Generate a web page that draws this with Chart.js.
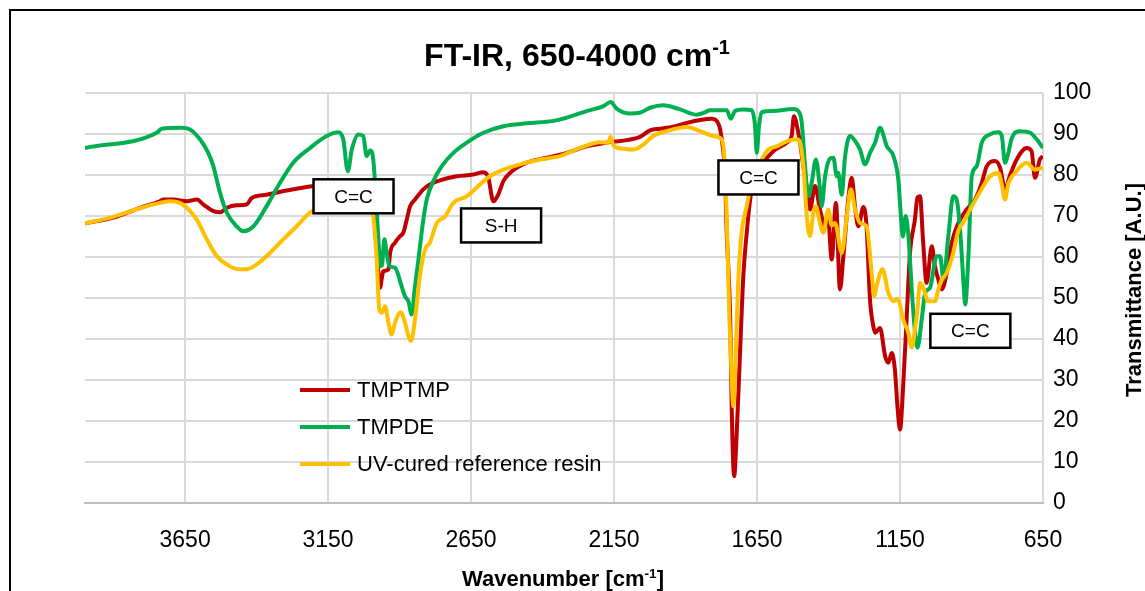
<!DOCTYPE html>
<html>
<head>
<meta charset="utf-8">
<title>FT-IR</title>
<script src="https://cdn.jsdelivr.net/npm/chart.js@4.4.1/dist/chart.umd.min.js"></script>
<style>
  html, body { margin: 0; padding: 0; background: #ffffff; }
  #ftir { display: block; }
</style>
</head>
<body>
<canvas id="ftir" width="1145" height="591"></canvas>
<script>
const seriesNames  = ["TMPTMP", "TMPDE", "UV-cured reference resin"];
const seriesColors = ["#c00000", "#00b050", "#ffc000"];
const xTicks = [3650, 3150, 2650, 2150, 1650, 1150, 650];

// [wavenumber cm-1, transmittance %]
const tmptmp = [
  [4000,68.2],[3901,69.6],[3808,72],[3738,73.6],[3726,74],[3691,74],[3644,73.6],[3609,74],[3586,72.8],
  [3551,71.2],[3528,70.9],[3504,72],[3470,72.6],[3435,72.8],[3417,74.4],[3365,75.2],[3295,76.2],[3202,77.3],
  [3100,78],[3030,78.5],[3005,76],[2986,70],[2968,52.5],[2962,54.9],[2957,56.5],[2939,57],[2933,61],
  [2916,63.5],[2898,65.1],[2887,65.9],[2875,69.1],[2863,72.4],[2846,74],[2817,76.5],[2794,77.7],[2759,78.7],
  [2700,79.7],[2642,80.1],[2607,80.7],[2590,79.5],[2572,73.6],[2555,75.2],[2537,78.5],[2514,80.5],[2455,83],
  [2385,84.2],[2315,85.4],[2246,87],[2176,87.9],[2106,88.5],[2059,89.3],[2024,90.9],[1989,91.3],[1943,91.8],
  [1896,92.7],[1849,93.4],[1808,93.7],[1785,92.5],[1774,89],[1762,80],[1756,66],[1744,45.6],[1738,21.2],
  [1730,6.5],[1721,17.1],[1709,37.4],[1698,55.3],[1686,65.9],[1674,74],[1663,79],[1628,83],[1593,85.8],
  [1546,87.9],[1529,89.5],[1521,94.3],[1509,91.5],[1500,88],[1488,82.1],[1471,74.8],[1465,71.6],[1447,77.3],
  [1430,71.6],[1412,67.5],[1401,69.1],[1389,59.4],[1374,73.2],[1360,52.1],[1348,60.2],[1331,74],[1319,79.3],
  [1307,72],[1296,67.5],[1278,72.2],[1267,67.5],[1255,49.6],[1243,43],[1237,41.5],[1220,42.7],[1202,35.8],
  [1191,34.2],[1179,36.6],[1168,32.6],[1159,23.6],[1150,17.9],[1139,28.5],[1127,44.8],[1115,61],[1098,69.1],
  [1089,74.5],[1080,74.8],[1069,63.5],[1057,53.7],[1039,62.6],[1028,57.8],[1016,54.5],[1004,52.1],[987,56],
  [969,63.5],[946,68.3],[917,71.6],[888,74],[864,78.1],[847,82.1],[818,83.4],[800,81.8],[783,76.5],
  [765,80],[742,83.8],[707,86.6],[690,85.8],[678,79.3],[661,83.8],[650,84.6]
];

const tmpde = [
  [4000,86.6],[3749,90.3],[3732,91.3],[3668,91.5],[3633,91.1],[3598,88.7],[3569,85.4],[3551,82.1],[3528,75.7],
  [3504,70.8],[3470,67.5],[3446,66.3],[3411,67.5],[3365,72.4],[3318,78.1],[3272,83],[3213,86.6],[3155,89.5],
  [3114,90.4],[3097,88.7],[3081,80.9],[3067,86.2],[3044,89.9],[3027,89.5],[3015,84.6],[3003,86],[2992,83.8],
  [2980,71.6],[2968,58.6],[2962,57.8],[2953,64.3],[2945,61],[2936,57.8],[2916,57.4],[2893,52.9],[2881,50.4],
  [2869,49.2],[2858,46],[2846,52.9],[2834,59.4],[2817,69.1],[2805,74],[2782,78.5],[2753,82.1],[2712,85.4],
  [2665,87.9],[2607,90.3],[2537,91.9],[2455,92.6],[2362,93.2],[2315,94],[2246,95.6],[2187,96.8],[2162,97.8],
  [2141,96.2],[2094,95],[2059,95.2],[2024,96.4],[1978,97],[1919,96],[1861,94.7],[1832,95.3],[1814,95.8],
  [1756,95.8],[1742,93.7],[1727,95.6],[1698,96],[1669,95.8],[1657,92],[1651,85.4],[1643,92],[1634,95.3],
  [1593,95.6],[1523,96.1],[1506,95.6],[1494,93],[1482,82.1],[1471,74.8],[1459,78.1],[1444,83.8],[1432,78],
  [1424,72.4],[1412,79.7],[1395,84],[1383,84.2],[1371,79.7],[1366,80.5],[1354,75.2],[1342,84.6],[1325,89.5],
  [1307,88.3],[1290,86.2],[1272,82.6],[1255,85.4],[1237,87.9],[1220,91.5],[1196,87],[1173,84.6],[1156,78.9],
  [1147,70],[1140,65],[1130,70],[1120,64.5],[1108,51],[1098,42],[1089,37.9],[1074,44.8],[1062,51.3],
  [1045,52.5],[1022,60.2],[1010,60.2],[998,54.5],[981,65.1],[964,74.8],[952,74],[940,66.7],[928,53.7],
  [922,48.4],[911,60],[899,79.7],[882,82.1],[864,87.9],[835,89.9],[806,90.4],[794,89.5],[783,83],
  [771,85.4],[759,89],[730,90.7],[695,90.3],[672,88.7],[650,86.6]
];

const uvResin = [
  [4000,68.2],[3901,69.8],[3808,71.9],[3738,73.2],[3703,73.6],[3668,73.2],[3644,72],[3609,69.1],[3574,64.3],
  [3539,60.2],[3504,58.2],[3470,57.1],[3435,57],[3400,58.2],[3353,61],[3307,64.3],[3260,67.5],[3213,70.8],
  [3120,74],[3030,75.5],[3008,74],[2992,70],[2980,59.4],[2971,47.2],[2962,46.4],[2951,48],[2939,44],
  [2928,41.1],[2916,44],[2896,46.5],[2881,44],[2869,40.7],[2860,39.5],[2846,44.8],[2829,55.3],[2811,61.8],
  [2794,63.5],[2770,68.3],[2741,69.9],[2712,73.2],[2665,74.8],[2619,77.7],[2584,79.7],[2537,81.3],[2479,82.6],
  [2409,83.8],[2339,84.6],[2269,86.6],[2199,88],[2170,87.9],[2162,89.3],[2152,87.2],[2118,86.4],[2083,86.2],
  [2048,87.4],[2013,89.5],[1966,90.7],[1896,91.7],[1849,90.7],[1803,89.5],[1774,88.7],[1765,85],[1756,69.9],
  [1747,45.6],[1738,29.3],[1733,23.6],[1724,37.4],[1716,53.7],[1704,65.9],[1686,72.4],[1669,78.1],[1640,83],
  [1611,86.2],[1581,87],[1546,88.2],[1511,88.7],[1500,88],[1488,82.1],[1476,70],[1465,65.1],[1453,70.8],
  [1444,72.4],[1432,68.9],[1418,65.9],[1401,71.6],[1389,67.7],[1377,68.3],[1354,61],[1336,69.9],[1322,76.5],
  [1307,71.6],[1290,68.3],[1267,67.5],[1249,56],[1240,50.4],[1232,52.9],[1211,57],[1191,51.3],[1173,49.2],
  [1159,49.8],[1150,48.4],[1139,44.8],[1121,41.5],[1109,37.9],[1098,42.3],[1089,47.2],[1080,53.7],[1069,52.5],
  [1051,49.2],[1028,49.2],[1016,52.1],[1004,54.5],[987,56.1],[964,61],[946,66.5],[928,68.5],[911,70.8],
  [876,75.2],[835,79.7],[806,80.5],[794,77.7],[783,74],[771,78],[748,80.5],[707,83],[678,81.3],[650,81.8]
];

// band labels, placed at wavenumber / transmittance
const bandNames = ["C=C", "S-H", "C=C", "C=C"];
const bandX = [3061, 2545, 1645, 904];
const bandY = [74.8, 67.7, 79.4, 42];

const FONT = "'Liberation Sans', Arial, sans-serif";

function toPoints(rows) {
  return rows.map(r => ({ x: r[0], y: r[1] }));
}

// text with a raised part, e.g. cm-1
function drawSupText(c, parts, x, y, size) {
  const widths = parts.map(p => {
    c.font = "bold " + (p[1] ? size * 0.62 : size) + "px " + FONT;
    return c.measureText(p[0]).width;
  });
  let cx = x - widths.reduce((a, b) => a + b, 0) / 2;
  parts.forEach((p, i) => {
    c.font = "bold " + (p[1] ? size * 0.62 : size) + "px " + FONT;
    c.fillText(p[0], cx, p[1] ? y - size * 0.38 : y);
    cx += widths[i];
  });
}

const chartFrame = {
  id: "chartFrame",
  beforeDraw(chart) {
    const c = chart.ctx;
    c.save();
    c.fillStyle = "#ffffff";
    c.fillRect(0, 0, chart.width, chart.height);
    c.strokeStyle = "#000000";
    c.lineWidth = 2;
    c.strokeRect(10, 10, chart.width + 40, chart.height + 40);
    c.restore();
  },
  afterDraw(chart) {
    const c = chart.ctx;
    const area = chart.chartArea;
    const xs = chart.scales.x, ys = chart.scales.y;
    c.save();
    c.fillStyle = "#000000";
    c.textAlign = "left";
    c.textBaseline = "alphabetic";

    drawSupText(c, [["FT-IR, 650-4000 cm", false], ["-1", true]], 577, 66, 32);
    drawSupText(c, [["Wavenumber [cm", false], ["-1", true], ["]", false]], 563, 586, 22);

    c.save();
    c.translate(1141, 290);
    c.rotate(-Math.PI / 2);
    c.textAlign = "center";
    c.font = "bold 22px " + FONT;
    c.fillText("Transmittance [A.U.]", 0, 0);
    c.restore();

    // legend inside the plot
    c.font = "22px " + FONT;
    c.textBaseline = "middle";
    seriesNames.forEach((name, i) => {
      const ly = area.top + 297 + i * 37;
      const lx = area.left + 215;
      c.strokeStyle = seriesColors[i];
      c.lineWidth = 4;
      c.beginPath();
      c.moveTo(lx, ly);
      c.lineTo(lx + 50, ly);
      c.stroke();
      c.fillText(name, lx + 57, ly + 1);
    });

    // band boxes
    c.textAlign = "center";
    c.font = "19px " + FONT;
    bandNames.forEach((name, i) => {
      const bx = xs.getPixelForValue(bandX[i]);
      const by = ys.getPixelForValue(bandY[i]);
      c.fillStyle = "#ffffff";
      c.fillRect(bx - 40, by - 17, 80, 34);
      c.strokeStyle = "#000000";
      c.lineWidth = 2.5;
      c.strokeRect(bx - 40, by - 17, 80, 34);
      c.fillStyle = "#000000";
      c.fillText(name, bx, by + 1);
    });
    c.restore();
  }
};

const canvas = document.getElementById("ftir");
const ctx = canvas.getContext("2d");

const seriesData = [tmptmp, tmpde, uvResin];

new Chart(ctx, {
  type: "line",
  data: {
    datasets: seriesData.map((rows, i) => ({
      label: seriesNames[i],
      data: toPoints(rows),
      borderColor: seriesColors[i],
      backgroundColor: seriesColors[i],
      borderWidth: 4,
      pointRadius: 0,
      fill: false,
      cubicInterpolationMode: "monotone",
      order: 3 - i
    }))
  },
  options: {
    responsive: false,
    animation: false,
    layout: { padding: { left: 85, top: 93, right: 0, bottom: 0 } },
    plugins: {
      legend: { display: false },
      tooltip: { enabled: false },
      title: { display: false }
    },
    scales: {
      x: {
        type: "linear",
        min: 650,
        max: 4000,
        reverse: true,
        afterBuildTicks: s => { s.ticks = xTicks.map(v => ({ value: v })); },
        afterFit: s => { s.height = 88; },
        grid: { color: "#d9d9d9", lineWidth: 2, drawTicks: false },
        border: { color: "#bfbfbf", width: 2 },
        ticks: {
          autoSkip: false,
          maxRotation: 0,
          padding: 24,
          color: "#000000",
          font: { family: FONT, size: 23 },
          callback: v => String(v)
        }
      },
      y: {
        position: "right",
        min: 0,
        max: 100,
        afterFit: s => { s.width = 102; },
        grid: { color: "#d9d9d9", lineWidth: 2, drawTicks: false },
        border: { display: false },
        ticks: {
          stepSize: 10,
          padding: 10,
          color: "#000000",
          font: { family: FONT, size: 23 },
          callback: v => String(v)
        }
      }
    }
  },
  plugins: [chartFrame]
});
</script>
</body>
</html>
